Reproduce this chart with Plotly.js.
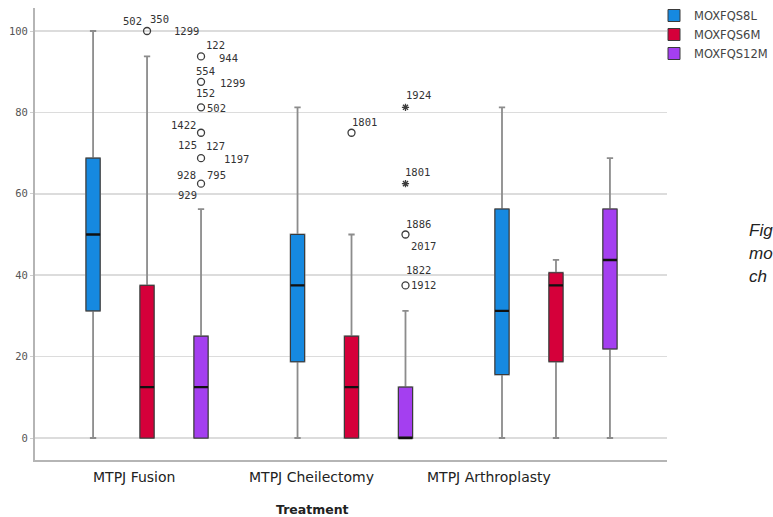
<!DOCTYPE html>
<html><head><meta charset="utf-8">
<script src="https://cdn.plot.ly/plotly-3.0.1.min.js"></script>
<style>html,body{margin:0;padding:0;background:#fff;overflow:hidden}#chart{width:773px;height:517px}</style>
</head><body><div id="chart"></div>
<script>
// ---------- data ----------
const categories = ['MTPJ Fusion', 'MTPJ Cheilectomy', 'MTPJ Arthroplasty'];
const seriesNames = ['MOXFQS8L', 'MOXFQS6M', 'MOXFQS12M'];
const xTitle = 'Treatment';

const min8L = [0, 0, 0];
const q1_8L = [31.25, 18.75, 15.6];
const med8L = [50, 37.5, 31.25];
const q3_8L = [68.75, 50, 56.25];
const max8L = [100, 81.25, 81.25];

const min6M = [0, 0, 0];
const q1_6M = [0, 0, 18.75];
const med6M = [12.5, 12.5, 37.5];
const q3_6M = [37.5, 25, 40.6];
const max6M = [93.75, 50, 43.75];

const min12M = [0, 0, 0];
const q1_12M = [0, 0, 21.9];
const med12M = [12.5, 0, 43.75];
const q3_12M = [25, 12.5, 56.25];
const max12M = [56.25, 31.25, 68.75];

// outliers (circles) and extremes (stars)
const outCats6M = ['MTPJ Fusion', 'MTPJ Cheilectomy'];
const outVals6M = [100, 75];
const outIds6M = [['502', '350', '1299'], ['1801']];

const outCats12M = ['MTPJ Fusion', 'MTPJ Fusion', 'MTPJ Fusion', 'MTPJ Fusion', 'MTPJ Fusion', 'MTPJ Fusion', 'MTPJ Cheilectomy', 'MTPJ Cheilectomy'];
const outVals12M = [93.75, 87.5, 81.25, 75, 68.75, 62.5, 50, 37.5];
const outIds12M = [['122', '944'], ['554', '1299'], ['152', '502'], ['1422'], ['125', '127', '1197'], ['928', '795', '929'], ['1886', '2017'], ['1822', '1912']];

const extCats12M = ['MTPJ Cheilectomy', 'MTPJ Cheilectomy'];
const extVals12M = [81.25, 62.5];
const extIds12M = [['1924'], ['1801']];

const yTicks = [0, 20, 40, 60, 80, 100];

// ---------- styles / placement ----------
const colors = ['#1689e0', '#d5003a', '#a43ff0'];
const W = 773, H = 517;
const M = {l: 35, r: 106, t: 8, b: 57, autoexpand: false};
const X_RANGE = [-0.548, 2.543];
const Y_RANGE = [-5.4, 105.65];
const BOXGAP = 0.208, BOXGROUPGAP = 0.74;
const plotW = W - M.l - M.r;
const plotH = H - M.t - M.b;
const pxPerUnit = plotW / (X_RANGE[1] - X_RANGE[0]);
const slotPx = i => pxPerUnit * (1 - BOXGAP) * ((i + 0.5) / 3 - 0.5);
const pxX = p => (p - M.l) / plotW;          // page px -> paper x
const pxY = p => (H - M.b - p) / plotH;      // page px -> paper y

// label offsets [dx, dy] (px, dy up) for each id label
const pl6M = [[[-15, 10], [12, 12], [39, 0]], [[13, 11]]];
const pl12M = [[[14, 11], [27, -2]], [[4, 11], [31, -1]], [[4, 14], [15, -1]], [[-18, 8]], [[-14, 13], [14, 12], [35, -1]], [[-15, 9], [15, 9], [-14, -11]], [[13, 11], [18, -11]], [[13, 15], [18, 0]]];
const plExt12M = [[[13, 12]], [[12, 12]]];

const stats = [
  {min: min8L, q1: q1_8L, med: med8L, q3: q3_8L, max: max8L},
  {min: min6M, q1: q1_6M, med: med6M, q3: q3_6M, max: max6M},
  {min: min12M, q1: q1_12M, med: med12M, q3: q3_12M, max: max12M}
];

const traces = [];
const common = {type: 'box', alignmentgroup: 'a', hoverinfo: 'skip', boxpoints: false};
stats.forEach((s, i) => {
  const g = 'g' + i;
  traces.push(Object.assign({}, common, {x: categories, q1: s.q1, median: s.med, q3: s.q3,
    lowerfence: s.min, upperfence: s.max, offsetgroup: g, fillcolor: 'rgba(0,0,0,0)',
    line: {color: '#8c8c8c', width: 1.8}, whiskerwidth: 0.45, showlegend: false, name: seriesNames[i] + ' w'}));
  traces.push(Object.assign({}, common, {x: categories, q1: s.q1, median: s.med, q3: s.q3,
    lowerfence: s.q1, upperfence: s.q3, offsetgroup: g, fillcolor: colors[i],
    line: {color: '#3a3a3a', width: 1}, whiskerwidth: 0, showlegend: true, name: seriesNames[i]}));
  traces.push(Object.assign({}, common, {x: categories, q1: s.med, median: s.med, q3: s.med,
    lowerfence: s.med, upperfence: s.med, offsetgroup: g, fillcolor: 'rgba(0,0,0,0)',
    line: {color: '#111111', width: 2.4}, whiskerwidth: 0, showlegend: false, name: seriesNames[i] + ' m'}));
});

function pointTrace(cats, vals, gi, symbol, size) {
  return {type: 'box', x: cats, y: vals, offsetgroup: 'g' + gi, alignmentgroup: 'a',
    boxpoints: 'all', jitter: 0, pointpos: 0, hoverinfo: 'skip', showlegend: false,
    line: {width: 0, color: 'rgba(0,0,0,0)'}, fillcolor: 'rgba(0,0,0,0)',
    marker: {symbol: symbol, size: size, color: '#3c3c3c', line: {width: 1.3, color: '#3c3c3c'}}};
}
traces.push(pointTrace(outCats6M, outVals6M, 1, 'circle-open', 7));
traces.push(pointTrace(outCats12M, outVals12M, 2, 'circle-open', 7));
traces.push(pointTrace(extCats12M, extVals12M, 2, 'asterisk-open', 6));

const annotations = [];
function addLabels(cats, vals, ids, pl, gi) {
  cats.forEach((c, k) => {
    ids[k].forEach((t, j) => {
      annotations.push({xref: 'x', yref: 'y', x: categories.indexOf(c), y: vals[k], text: t,
        showarrow: false, xanchor: 'center', yanchor: 'middle',
        xshift: slotPx(gi) + pl[k][j][0], yshift: pl[k][j][1],
        font: {family: 'DejaVu Sans Mono, monospace', size: 10.5, color: '#333'}});
    });
  });
}
addLabels(outCats6M, outVals6M, outIds6M, pl6M, 1);
addLabels(outCats12M, outVals12M, outIds12M, pl12M, 2);
addLabels(extCats12M, extVals12M, extIds12M, plExt12M, 2);

// category labels and axis title (they sit on a narrower span in the original)
const labCenter0 = 133.5, labStep = 177.75;
categories.forEach((c, i) => {
  annotations.push({xref: 'paper', yref: 'paper', x: pxX(labCenter0 + i * labStep), y: pxY(477),
    text: c, showarrow: false, xanchor: 'center', yanchor: 'middle',
    font: {family: 'DejaVu Sans, sans-serif', size: 14, color: '#222'}});
});
annotations.push({xref: 'paper', yref: 'paper', x: pxX(312.5), y: pxY(509),
  text: '<b>' + xTitle + '</b>', showarrow: false, xanchor: 'center', yanchor: 'middle',
  font: {family: 'DejaVu Sans, sans-serif', size: 12.5, color: '#222'}});

// cropped document text at right edge
[['Fig', 230], ['mo', 253], ['ch', 276]].forEach(([t, py]) => {
  annotations.push({xref: 'paper', yref: 'paper', x: pxX(747), y: pxY(py),
    text: '<i>' + t + '</i>', showarrow: false, xanchor: 'left', yanchor: 'middle',
    font: {family: 'Liberation Sans, Arial, sans-serif', size: 17, color: '#222'}});
});

const layout = {
  width: W, height: H, margin: M,
  paper_bgcolor: '#fff', plot_bgcolor: '#fff',
  boxmode: 'group', boxgap: BOXGAP, boxgroupgap: BOXGROUPGAP,
  showlegend: true,
  legend: {x: pxX(654), y: pxY(1), xanchor: 'left', yanchor: 'top', itemwidth: 30,
    tracegroupgap: 0, bgcolor: 'rgba(0,0,0,0)', borderwidth: 0,
    font: {family: 'DejaVu Sans, sans-serif', size: 11.5, color: '#444'}},
  xaxis: {type: 'category', categoryorder: 'array', categoryarray: categories, range: X_RANGE,
    showticklabels: false, showgrid: false, zeroline: false, showline: true,
    linecolor: '#b5b5b5', linewidth: 2, ticks: '', fixedrange: true},
  yaxis: {range: Y_RANGE, tickmode: 'array', tickvals: yTicks, showgrid: true, gridcolor: '#dcdcdc',
    gridwidth: 1.5, zeroline: false, showline: true, linecolor: '#b5b5b5', linewidth: 2,
    ticks: 'outside', ticklen: 3, tickcolor: '#cfcfcf',
    tickfont: {family: 'DejaVu Sans Mono, monospace', size: 10.5, color: '#555'}},
  annotations: annotations
};

Plotly.newPlot('chart', traces, layout, {displayModeBar: false, staticPlot: true});
</script>
</body></html>
